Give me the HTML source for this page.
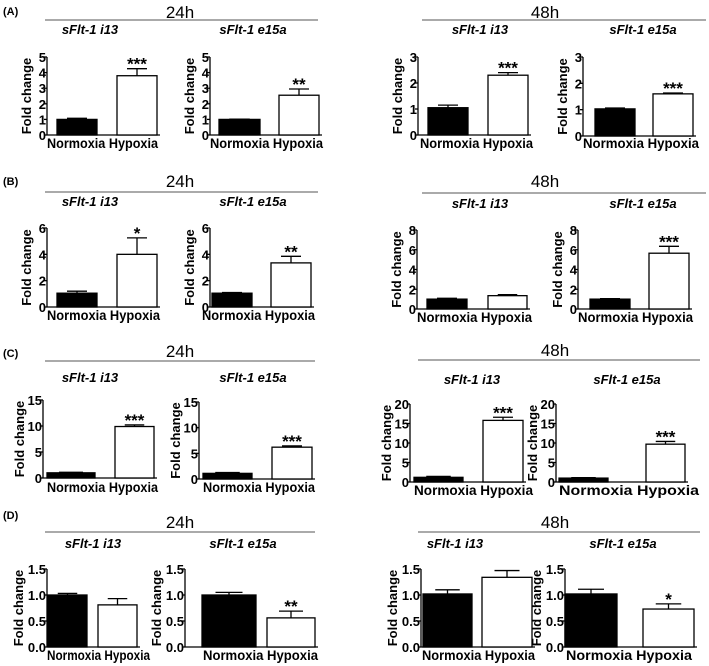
<!DOCTYPE html>
<html><head><meta charset="utf-8"><style>
body{margin:0;background:#fff}
svg{display:block;font-family:"Liberation Sans",Arial,sans-serif}
</style></head><body>
<svg id="fig" width="709" height="666" viewBox="0 0 709 666" xmlns="http://www.w3.org/2000/svg"></svg>
<script>
// ---- data (16 panels: A1..A4, B1..B4, C1..C4, D1..D4) ----
const categories = ["Normoxia", "Hypoxia"];
const panelTitles = ["sFlt-1 i13","sFlt-1 e15a","sFlt-1 i13","sFlt-1 e15a","sFlt-1 i13","sFlt-1 e15a","sFlt-1 i13","sFlt-1 e15a","sFlt-1 i13","sFlt-1 e15a","sFlt-1 i13","sFlt-1 e15a","sFlt-1 i13","sFlt-1 e15a","sFlt-1 i13","sFlt-1 e15a"];
const normoxiaMean = [1.0,1.0,1.05,1.03, 1.05,1.05,1.0,1.0, 1.0,1.1,1.2,1.0, 1.0,1.0,1.02,1.02];
const normoxiaErr  = [0.07,0.02,0.1,0.03, 0.15,0.05,0.08,0.05, 0.1,0.15,0.25,0.1, 0.03,0.05,0.08,0.09];
const hypoxiaMean  = [3.8,2.55,2.3,1.6, 4.0,3.35,1.35,5.65, 9.9,6.2,15.8,9.7, 0.81,0.56,1.34,0.73];
const hypoxiaErr   = [0.45,0.4,0.1,0.03, 1.25,0.5,0.1,0.7, 0.3,0.25,0.8,0.7, 0.12,0.13,0.13,0.1];
const sigLabels    = ["***","**","***","***", "*","**","","***", "***","***","***","***", "","**","","*"];
const yTickSets = [
  [0,1,2,3,4,5],[0,1,2,3,4,5],[0,1,2,3],[0,1,2,3],
  [0,2,4,6],[0,2,4,6],[0,2,4,6,8],[0,2,4,6,8],
  [0,5,10,15],[0,5,10,15],[0,5,10,15,20],[0,5,10,15,20],
  [0,0.5,1.0,1.5],[0,0.5,1.0,1.5],[0,0.5,1.0,1.5],[0,0.5,1.0,1.5]
];
const tickDecimals = [0,0,0,0, 0,0,0,0, 0,0,0,0, 1,1,1,1];

// ---- layout (pixel geometry) ----
// [axisX, topY, bottomY, bar1x0, bar1x1, bar2x0, bar2x1, titleCx, titleY, xlabelY, xlabX0, xlabX1, yTitleOffset]
const geom = [
 [47,57,135,57,97,117,157,90,34,148,47,158,16],[210,57,135,219,260,279,319,253,34,148,210,323,16],
 [418,57,135,428,468,488,528,480,34,148,420,533,16],[583,57,136,595,635,653,693,643,34,148,583,699,16],
 [47,228,307,57,97,117,157,90,206,320,47,160,16],[210,228,307,212,252,271,311,253,206,320,202,315,16],
 [417,230,309,427,467,488,527,480,208,322,417,532,16],[578,230,309,590,630,649,689,643,208,322,578,693,16],
 [43,400,478,47,95,115,154,90,382,492,47,158,19],[199,402,479,203,252,272,312,253,382,492,203,315,19],
 [410,404,482,414,463,483,523,472,384,495,414,533,19],[556,404,482,559,608,646,685,627,384,495,559,699,19],
 [47,569,647,48,87,98,137,93,548,660,47,150,24],[185,569,647,202,256,267,315,243,548,660,203,318,24],
 [421,569,647,423,472,482,532,455,548,660,422,535,24],[565,569,647,565,617,643,694,623,548,660,566,692,24]
];
const headers = [
 ["(A)",3,15,"24h",180,18,45,318,20],["","",0,"48h",545,18,422,706,20],
 ["(B)",3,185,"24h",180,187,45,318,192],["","",0,"48h",545,187,422,706,193],
 ["(C)",3,357,"24h",180,357,45,315,361],["","",0,"48h",555,356,418,700,360],
 ["(D)",3,519,"24h",180,528,45,315,532],["","",0,"48h",555,528,418,700,532]
];

const NS="http://www.w3.org/2000/svg";
const svg=document.getElementById('fig');
function mk(tag,attrs,parent){const e=document.createElementNS(NS,tag);for(const k in attrs)e.setAttribute(k,attrs[k]);(parent||svg).appendChild(e);return e;}

headers.forEach((h,i)=>{
  if(h[0]){const t=mk('text',{x:h[1],y:h[2],'font-size':11,'font-weight':'bold'});t.textContent=h[0];
    
    }
  const t2=mk('text',{x:h[4],y:h[5],'font-size':17,'text-anchor':'middle'});t2.textContent=h[3];
  
  
  const l=mk('line',{x1:h[6],x2:h[7],y1:h[8],y2:h[8],stroke:'#555','stroke-width':1});
  
  
});

for(let p=0;p<16;p++){
  const g=geom[p];
  const grp=mk('g',{});
  
  
  const ticks=yTickSets[p];
  const yMax=ticks[ticks.length-1];
  const ax=g[0],top=g[1],bot=g[2];
  const y=v=>bot-(v/yMax)*(bot-top);
  const tt=mk('text',{x:g[7],y:g[8],'font-size':13,'font-weight':'bold','font-style':'italic','text-anchor':'middle'},grp);
  tt.textContent=panelTitles[p];
  
  
  const yl=mk('text',{transform:`translate(${ax-g[12]},${(top+bot)/2}) rotate(-90)`,'font-size':13,'font-weight':'bold','text-anchor':'middle'},grp);
  yl.textContent='Fold change';
  
  
  const a=mk('line',{x1:ax,x2:ax,y1:top,y2:bot,stroke:'#000','stroke-width':1.3},grp);
  
  
  const b=mk('line',{x1:ax,x2:g[6]+3,y1:bot,y2:bot,stroke:'#000','stroke-width':1.3},grp);
  
  
  ticks.forEach(v=>{
    mk('line',{x1:ax-3,x2:ax,y1:y(v),y2:y(v),stroke:'#000','stroke-width':1.3},grp);
    const tl=mk('text',{x:ax-1,y:y(v)+5,'font-size':13,'font-weight':'bold','text-anchor':'end'},grp);
    tl.textContent=v.toFixed(tickDecimals[p]);
    
    
  });
  const means=[normoxiaMean[p],hypoxiaMean[p]],errs=[normoxiaErr[p],hypoxiaErr[p]];
  [[g[3],g[4]],[g[5],g[6]]].forEach((xs,i)=>{
    const cx=(xs[0]+xs[1])/2,w=xs[1]-xs[0];
    const e=mk('line',{x1:cx,x2:cx,y1:y(means[i]),y2:y(means[i]+errs[i]),stroke:'#000','stroke-width':1.3},grp);
    
    
    mk('line',{x1:cx-w/4,x2:cx+w/4,y1:y(means[i]+errs[i]),y2:y(means[i]+errs[i]),stroke:'#000','stroke-width':1.3},grp);
    const r=mk('rect',{x:xs[0],y:y(means[i]),width:w,height:bot-y(means[i]),fill:i==0?'#000':'#fff',stroke:'#000','stroke-width':1.3},grp);
    
    
  });
  if(sigLabels[p]){
    const cx=(g[5]+g[6])/2;
    const s=mk('text',{x:cx,y:y(hypoxiaMean[p]+hypoxiaErr[p])+1,'font-size':17,'font-weight':'bold','text-anchor':'middle'},grp);
    s.textContent=sigLabels[p];
    
    
  }
  const xlab=mk('text',{x:g[10],y:g[9],'font-size':14,'font-weight':'bold',textLength:g[11]-g[10],lengthAdjust:'spacingAndGlyphs'},grp);
  xlab.textContent=categories.join(' ');
  
  
}
</script>
</body></html>
